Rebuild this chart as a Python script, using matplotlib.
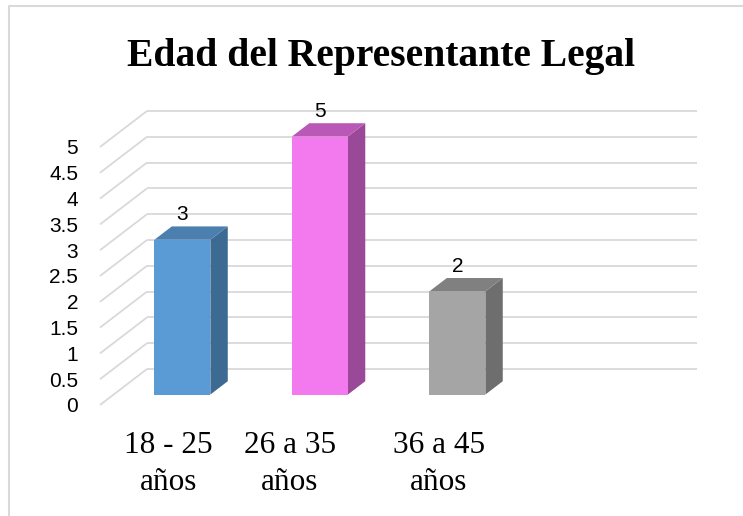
import matplotlib.pyplot as plt
from matplotlib.patches import Polygon
from matplotlib.lines import Line2D
import numpy as np

# data
categories = ["18 - 25", "26 a 35", "36 a 45"]
category_sub = ["años", "años", "años"]
values = [3, 5, 2]
yticks = np.arange(0, 5.5, 0.5)
n_slots = 4  # excel leaves one empty slot on the right

front_colors = ["#5B9BD5", "#F279EE", "#A5A5A5"]
top_colors = ["#4B7FB0", "#B958B6", "#808080"]
side_colors = ["#3D6A92", "#9A4998", "#6E6E6E"]
grid_color = "#D9D9D9"

W, H = 743, 516
fig = plt.figure(figsize=(W / 100, H / 100), dpi=100)
ax = fig.add_axes([0.11608, 0.20512, 0.85128, 0.59004])
ax.set_xlim(-0.1, 4.5)
ax.set_ylim(-0.1, 5.8)

# oblique "3d" depth, in data units
DX, DY = 0.342, 0.698
d0, d1 = 0.29, 0.66
half = 0.407 / 2

# side wall diagonals and back wall gridlines
for v in yticks:
    ax.plot([0, DX], [v, v + DY], color=grid_color, lw=1.3, zorder=1,
            solid_capstyle="butt")
    ax.plot([DX, n_slots + DX], [v + DY, v + DY], color=grid_color, lw=1.3,
            zorder=1, solid_capstyle="butt")

for i, v in enumerate(values):
    cx = i + 0.5
    xl = cx - half
    xr = cx + half
    front = [(xl + d0 * DX, d0 * DY), (xr + d0 * DX, d0 * DY),
             (xr + d0 * DX, v + d0 * DY), (xl + d0 * DX, v + d0 * DY)]
    side = [(xr + d0 * DX, d0 * DY), (xr + d1 * DX, d1 * DY),
            (xr + d1 * DX, v + d1 * DY), (xr + d0 * DX, v + d0 * DY)]
    top = [(xl + d0 * DX, v + d0 * DY), (xr + d0 * DX, v + d0 * DY),
           (xr + d1 * DX, v + d1 * DY), (xl + d1 * DX, v + d1 * DY)]
    ax.add_patch(Polygon(side, closed=True, fc=side_colors[i], ec="none", zorder=3))
    ax.add_patch(Polygon(top, closed=True, fc=top_colors[i], ec="none", zorder=3))
    ax.add_patch(Polygon(front, closed=True, fc=front_colors[i], ec="none", zorder=4))
    ax.annotate(str(v), xy=(cx + d0 * DX, v + d0 * DY), xytext=(0, 18),
                textcoords="offset points", ha="center", va="center",
                fontsize=15, family="Liberation Sans", zorder=5)

ax.set_yticks(yticks)
ax.set_yticklabels([f"{t:g}" for t in yticks], family="Liberation Sans")
ax.tick_params(axis="y", length=0, pad=5.8, labelsize=15)
ax.set_xticks([])
for s in ax.spines.values():
    s.set_visible(False)
ax.patch.set_alpha(0)

# category labels (excel puts them off-centre under the bars)
label_x = [168.5, 290, 439]
for lx, c, sub in zip(label_x, categories, category_sub):
    fig.text(lx / W, 1 - 453 / H, c, ha="center", va="baseline",
             fontsize=22.5, family="Liberation Serif")
    fig.text(lx / W, 1 - 490 / H, sub, ha="center", va="baseline",
             fontsize=22.5, family="Liberation Serif")

fig.text(381 / W, 1 - 66 / H, "Edad del Representante Legal", ha="center",
         va="baseline", fontsize=28.5, fontweight="bold", family="Liberation Serif")

# chart area border (cropped on the right and bottom)
fig.add_artist(Line2D([8.5 / W, 8.5 / W, 1], [0, 1 - 5.5 / H, 1 - 5.5 / H],
                      transform=fig.transFigure, color=grid_color, lw=1.5))

fig.savefig("out.png", dpi=100)
